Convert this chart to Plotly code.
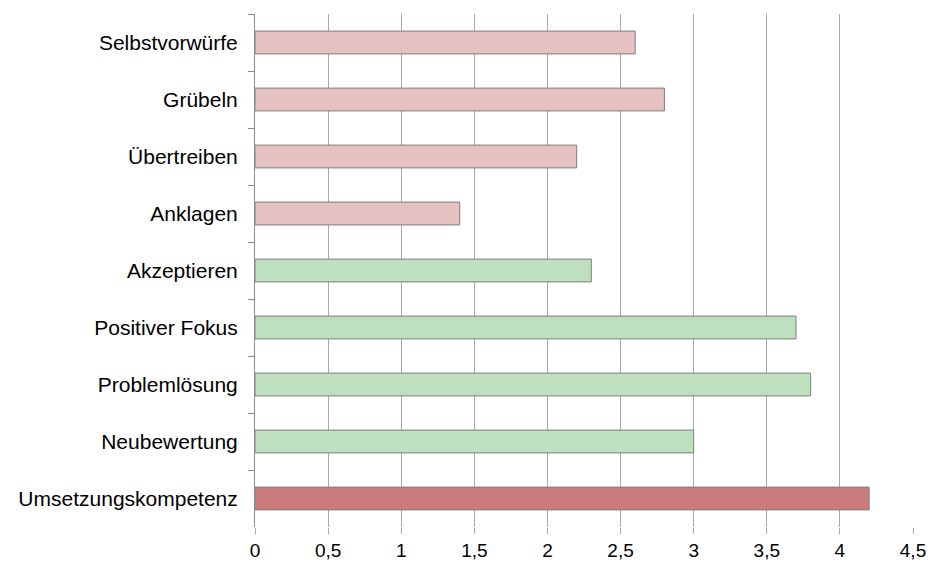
import plotly.graph_objects as go

# Coping strategies, listed top to bottom
categories = [
    "Selbstvorwürfe", "Grübeln", "Übertreiben", "Anklagen",
    "Akzeptieren", "Positiver Fokus", "Problemlösung", "Neubewertung",
    "Umsetzungskompetenz",
]
values = [2.6, 2.8, 2.2, 1.4, 2.3, 3.7, 3.8, 3.0, 4.2]
groups = ["neg", "neg", "neg", "neg", "pos", "pos", "pos", "pos", "total"]

x_ticks = [0, 0.5, 1, 1.5, 2, 2.5, 3, 3.5, 4, 4.5]
x_tick_labels = ["0", "0,5", "1", "1,5", "2", "2,5", "3", "3,5", "4", "4,5"]

group_colors = {"neg": "#e6c1c1", "pos": "#bfe0bf", "total": "#cc7c7c"}
bar_colors = [group_colors[g] for g in groups]

font_family = "Liberation Sans, Arial, sans-serif"

fig = go.Figure(
    go.Bar(
        x=values,
        y=categories,
        orientation="h",
        marker=dict(color=bar_colors, line=dict(color="#7f7f7f", width=1)),
        width=0.4,
    )
)

fig.update_layout(
    width=933,
    height=565,
    margin=dict(l=255, r=20, t=14, b=38, autoexpand=False),
    paper_bgcolor="white",
    plot_bgcolor="white",
    showlegend=False,
    font=dict(family=font_family, size=21, color="#000000"),
    xaxis=dict(
        range=[0, 4.5],
        tickvals=x_ticks,
        ticktext=x_tick_labels,
        showgrid=True,
        gridcolor="#a8a8a8",
        gridwidth=1,
        zeroline=False,
        showline=False,
        ticks="outside",
        ticklen=6,
        tickcolor="#a8a8a8",
        ticklabelstandoff=0,
        automargin=False,
        tickfont=dict(size=19),
    ),
    yaxis=dict(
        autorange="reversed",
        showgrid=False,
        showline=True,
        linecolor="#8c8c8c",
        linewidth=1,
        ticks="outside",
        tickson="boundaries",
        ticklen=6,
        tickcolor="#8c8c8c",
        ticklabelstandoff=12,
        automargin=False,
        tickfont=dict(size=21),
    ),
)

fig.write_html("out.html")
